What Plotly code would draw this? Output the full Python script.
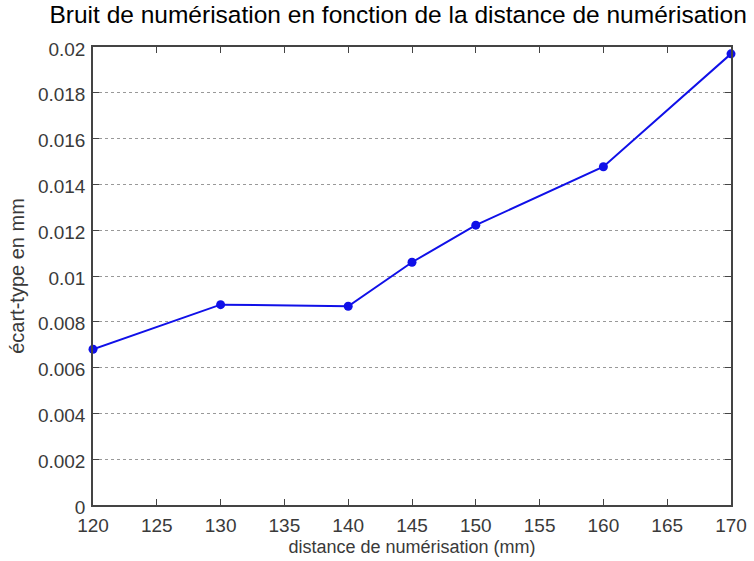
import plotly.graph_objects as go

distance_mm = [120, 130, 140, 145, 150, 160, 170]
ecart_type_mm = [0.0068, 0.00875, 0.00868, 0.0106, 0.01222, 0.01477, 0.0197]

x_ticks = [120, 125, 130, 135, 140, 145, 150, 155, 160, 165, 170]
y_ticks = [0, 0.002, 0.004, 0.006, 0.008, 0.01, 0.012, 0.014, 0.016, 0.018, 0.02]
y_tick_labels = ["0", "0.002", "0.004", "0.006", "0.008", "0.01", "0.012",
                 "0.014", "0.016", "0.018", "0.02"]

_LINE_COLOUR = "#1010e8"
_AXIS_COLOUR = "#444444"
_FONT = "Liberation Sans, Arial, sans-serif"

fig = go.Figure()

fig.add_trace(go.Scatter(
    x=distance_mm,
    y=ecart_type_mm,
    mode="lines+markers",
    line=dict(color=_LINE_COLOUR, width=2),
    marker=dict(color=_LINE_COLOUR, size=9),
    cliponaxis=False,
    showlegend=False,
))

axis_common = dict(
    showline=True,
    linecolor=_AXIS_COLOUR,
    linewidth=1.5,
    mirror="ticks",
    ticks="inside",
    ticklen=6,
    tickcolor=_AXIS_COLOUR,
    zeroline=False,
    tickfont=dict(family=_FONT, size=19, color="#3a3a3a"),
)

fig.update_xaxes(
    range=[120, 170],
    tickvals=x_ticks,
    showgrid=False,
    ticklabelstandoff=2,
    title=dict(text="distance de numérisation (mm)",
               font=dict(family=_FONT, size=18, color="#3a3a3a"), standoff=6),
    **axis_common,
)
fig.update_yaxes(
    range=[0, 0.02],
    tickvals=y_ticks,
    ticktext=y_tick_labels,
    showgrid=True,
    gridcolor="#999999",
    griddash="dot",
    gridwidth=1,
    ticklabelstandoff=2,
    ticklabelshift=2,
    title=dict(text="écart-type en mm",
               font=dict(family=_FONT, size=20, color="#3a3a3a"), standoff=8),
    **axis_common,
)

fig.update_layout(
    width=754,
    height=561,
    title=dict(text="Bruit de numérisation en fonction de la distance de numérisation",
               font=dict(family=_FONT, size=24.5, color="black"),
               x=0.528, xanchor="center", y=0.99, yanchor="top"),
    plot_bgcolor="white",
    paper_bgcolor="white",
    margin=dict(l=93, r=23, t=47, b=56, autoexpand=False),
)

fig.write_html("out.html", config={"displayModeBar": False},
               post_script="document.body.style.margin='0';")
